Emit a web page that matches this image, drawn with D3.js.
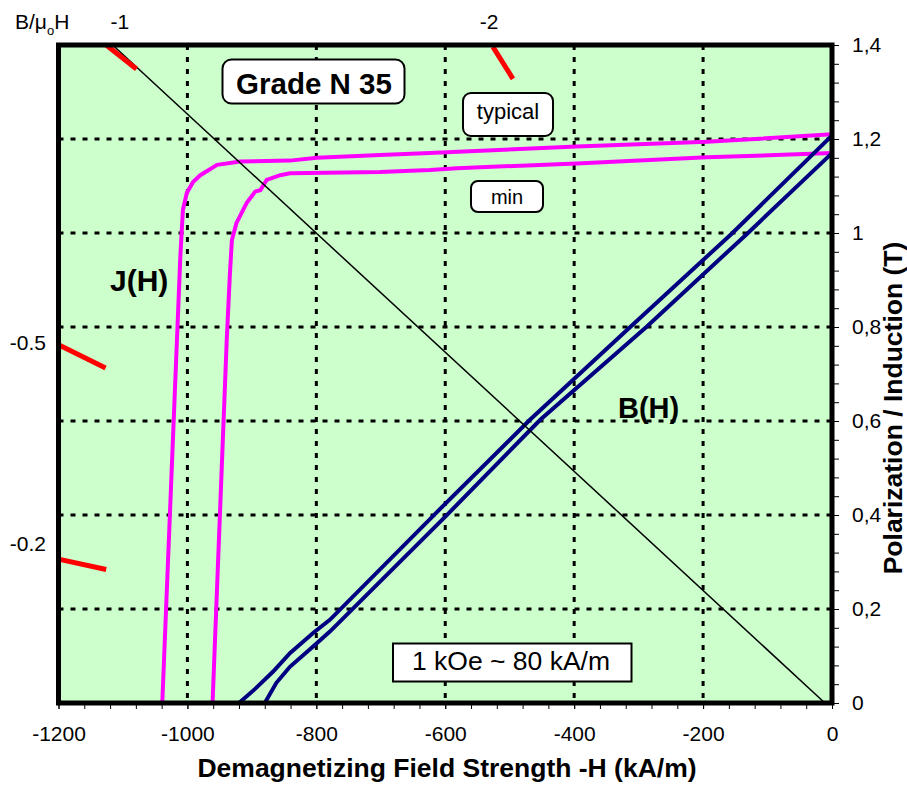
<!DOCTYPE html>
<html>
<head>
<meta charset="utf-8">
<script src="https://cdn.jsdelivr.net/npm/d3@7"></script>
<style>
  body { margin: 0; background: #fff; }
  svg { display: block; font-family: "Liberation Sans", Arial, sans-serif; }
  .grid { stroke: #000; stroke-width: 3; stroke-dasharray: 5,7; fill: none; }
  .plotbg { fill: #ccffcc; stroke: none; }
  .frame { stroke: #000; stroke-width: 5; fill: none; }
  .axis path { display: none; }
  .axis line { stroke: #000; stroke-width: 1; }
  .axis text { font-size: 21px; fill: #000; }
  .jcurve { stroke: #ff00ff; stroke-width: 4; fill: none; }
  .bcurve { stroke: #000080; stroke-width: 4; fill: none; }
  .load { stroke: #000; stroke-width: 1.5; fill: none; }
  .mark { stroke: #ff0000; stroke-width: 5; fill: none; }
  .box { fill: #fff; stroke: #000; stroke-width: 2; }
</style>
</head>
<body>
<div id="chart"></div>
<script>
// axis ticks
var hTicks = [-1200, -1000, -800, -600, -400, -200, 0];
var hTickLabels = ['-1200', '-1000', '-800', '-600', '-400', '-200', '0'];
var bTicks = [0, 0.2, 0.4, 0.6, 0.8, 1, 1.2, 1.4];
var bTickLabels = ['0', '0,2', '0,4', '0,6', '0,8', '1', '1,2', '1,4'];

// polarization J(H), [H kA/m, J T]
var jTypical = [[0, 1.210], [-194, 1.194], [-396, 1.184], [-624, 1.170], [-701, 1.166],
  [-799, 1.160], [-841, 1.154], [-918, 1.152], [-954, 1.145], [-980, 1.123], [-991, 1.109],
  [-1001, 1.085], [-1007, 1.049], [-1009, 1.0], [-1011, 0.949], [-1020, 0.645], [-1039, 0]];
var jMin = [[0, 1.170], [-194, 1.161], [-396, 1.148], [-582, 1.138], [-624, 1.134], [-701, 1.130],
  [-841, 1.127], [-856, 1.123], [-877, 1.113], [-887, 1.091], [-895, 1.088], [-908, 1.064],
  [-924, 1.021], [-931, 0.985], [-934, 0.915], [-939, 0.772], [-961, 0]];

// induction B(H), [H kA/m, B T]
var bTypical = [[-1, 1.206], [-156, 0.998], [-313, 0.800], [-469, 0.602], [-616, 0.402],
  [-779, 0.177], [-805, 0.149], [-841, 0.106], [-867, 0.067], [-895, 0.030], [-920, 0]];
var bMin = [[0, 1.170], [-132, 0.998], [-288, 0.800], [-453, 0.602], [-596, 0.402],
  [-779, 0.152], [-805, 0.120], [-841, 0.077], [-862, 0.043], [-880, 0]];

// permeance line B/uoH = -1 and the red scale marks
var loadLine = [[-1116, 1.4], [-11, 0]];
var permeanceMarks = [
  [[-1126, 1.4], [-1079, 1.349]],
  [[-526, 1.396], [-495, 1.328]],
  [[-1200, 0.762], [-1127, 0.713]],
  [[-1200, 0.306], [-1126, 0.284]]
];
var topLabels = [{text: '-1', h: -1105}, {text: '-2', h: -532}];
var sideLabels = [{text: '-0.5', b: 0.766}, {text: '-0.2', b: 0.338}];

// layout
const WIDTH = 907;
const HEIGHT = 787;
const PLOT_LEFT = 58.5;
const PLOT_RIGHT = 832;
const PLOT_TOP = 45;
const PLOT_BOTTOM = 703;

var svg, x, y;

function initScales() {
  x = d3.scaleLinear().domain([-1200, 0]).range([PLOT_LEFT, PLOT_RIGHT]);
  y = d3.scaleLinear().domain([0, 1.4]).range([PLOT_BOTTOM, PLOT_TOP]);
}

function initPlot() {
  svg = d3.select('#chart').append('svg')
          .attr('width', WIDTH)
          .attr('height', HEIGHT);

  svg.append('rect')
     .attr('width', WIDTH)
     .attr('height', HEIGHT)
     .attr('fill', '#fff');

  svg.append('rect')
     .classed('plotbg', true)
     .attr('x', PLOT_LEFT)
     .attr('y', PLOT_TOP)
     .attr('width', PLOT_RIGHT - PLOT_LEFT)
     .attr('height', PLOT_BOTTOM - PLOT_TOP);

  // dotted grid
  svg.selectAll('line.vgrid').data(hTicks.slice(1, -1))
     .enter()
     .append('line')
     .attr('class', 'grid vgrid')
     .attr('x1', d => x(d)).attr('x2', d => x(d))
     .attr('y1', PLOT_TOP).attr('y2', PLOT_BOTTOM);

  svg.selectAll('line.hgrid').data(bTicks.slice(1, -1))
     .enter()
     .append('line')
     .attr('class', 'grid hgrid')
     .attr('x1', PLOT_LEFT).attr('x2', PLOT_RIGHT)
     .attr('y1', d => y(d)).attr('y2', d => y(d));
}

function initAxes() {
  var minorH = d3.range(-1200, 1, 40);
  var minorB = d3.range(0, 1.41, 0.04);

  svg.append('g')
     .attr('class', 'axis')
     .attr('transform', 'translate(0,' + PLOT_BOTTOM + ')')
     .call(d3.axisBottom(x).tickValues(minorH).tickSize(6).tickFormat(''));

  svg.append('g')
     .attr('class', 'axis')
     .attr('transform', 'translate(0,' + PLOT_BOTTOM + ')')
     .call(d3.axisBottom(x).tickValues(hTicks).tickSize(6).tickPadding(17)
             .tickFormat((d, i) => hTickLabels[i]));

  svg.append('g')
     .attr('class', 'axis')
     .attr('transform', 'translate(' + PLOT_RIGHT + ',0)')
     .call(d3.axisRight(y).tickValues(minorB).tickSize(7).tickFormat(''));

  svg.append('g')
     .attr('class', 'axis')
     .attr('transform', 'translate(' + PLOT_RIGHT + ',0)')
     .call(d3.axisRight(y).tickValues(bTicks).tickSize(7).tickPadding(13)
             .tickFormat((d, i) => bTickLabels[i]));

  svg.append('text')
     .attr('x', 447)
     .attr('y', 777)
     .attr('text-anchor', 'middle')
     .attr('font-size', 26.5)
     .attr('font-weight', 'bold')
     .text('Demagnetizing Field Strength -H (kA/m)');

  svg.append('text')
     .attr('transform', 'translate(902,' + 408 + ') rotate(-90)')
     .attr('text-anchor', 'middle')
     .attr('font-size', 26.5)
     .attr('font-weight', 'bold')
     .text('Polarization / Induction (T)');
}

function initCurves() {
  var line = d3.line().x(d => x(d[0])).y(d => y(d[1]));

  svg.selectAll('path.jcurve').data([jTypical, jMin])
     .enter()
     .append('path')
     .classed('jcurve', true)
     .attr('d', line);

  svg.selectAll('path.bcurve').data([bTypical, bMin])
     .enter()
     .append('path')
     .classed('bcurve', true)
     .attr('d', line);

  svg.append('path')
     .classed('load', true)
     .attr('d', line(loadLine));

  svg.selectAll('path.mark').data(permeanceMarks)
     .enter()
     .append('path')
     .classed('mark', true)
     .attr('d', line);

  // frame on top of the curves
  svg.append('rect')
     .classed('frame', true)
     .attr('x', PLOT_LEFT)
     .attr('y', PLOT_TOP)
     .attr('width', PLOT_RIGHT - PLOT_LEFT)
     .attr('height', PLOT_BOTTOM - PLOT_TOP);
}

function initLabels() {
  var t = svg.append('text')
             .attr('x', 15)
             .attr('y', 29)
             .attr('font-size', 21);
  t.append('tspan').text('B/μ');
  t.append('tspan').attr('font-size', 13).attr('dy', 6).text('o');
  t.append('tspan').attr('dy', -6).text('H');

  svg.selectAll('text.top').data(topLabels)
     .enter()
     .append('text')
     .attr('x', d => x(d.h))
     .attr('y', 29)
     .attr('text-anchor', 'middle')
     .attr('font-size', 21)
     .text(d => d.text);

  svg.selectAll('text.side').data(sideLabels)
     .enter()
     .append('text')
     .attr('x', 46)
     .attr('y', d => y(d.b) + 7)
     .attr('text-anchor', 'end')
     .attr('font-size', 21)
     .text(d => d.text);

  // boxed notes
  svg.append('rect').classed('box', true)
     .attr('x', 222.5).attr('y', 59.5).attr('width', 182).attr('height', 44).attr('rx', 9);
  svg.append('text')
     .attr('x', 314).attr('y', 94)
     .attr('text-anchor', 'middle')
     .attr('font-size', 29.5).attr('font-weight', 'bold')
     .text('Grade N 35');

  svg.append('rect').classed('box', true)
     .attr('x', 463).attr('y', 93).attr('width', 90).attr('height', 43).attr('rx', 8);
  svg.append('text')
     .attr('x', 508).attr('y', 119)
     .attr('text-anchor', 'middle')
     .attr('font-size', 22)
     .text('typical');

  svg.append('rect').classed('box', true)
     .attr('x', 471).attr('y', 181).attr('width', 72).attr('height', 31).attr('rx', 7);
  svg.append('text')
     .attr('x', 507).attr('y', 204)
     .attr('text-anchor', 'middle')
     .attr('font-size', 20)
     .text('min');

  svg.append('rect').classed('box', true)
     .attr('x', 393).attr('y', 643.5).attr('width', 238.5).attr('height', 38);
  svg.append('text')
     .attr('x', 511).attr('y', 670)
     .attr('text-anchor', 'middle')
     .attr('font-size', 26.5)
     .text('1 kOe ~ 80 kA/m');

  svg.append('text')
     .attr('x', 110).attr('y', 291)
     .attr('font-size', 30).attr('font-weight', 'bold')
     .text('J(H)');

  svg.append('text')
     .attr('x', 618).attr('y', 418)
     .attr('font-size', 29).attr('font-weight', 'bold')
     .text('B(H)');
}

// enter point
initScales();
initPlot();
initAxes();
initCurves();
initLabels();
</script>
</body>
</html>
